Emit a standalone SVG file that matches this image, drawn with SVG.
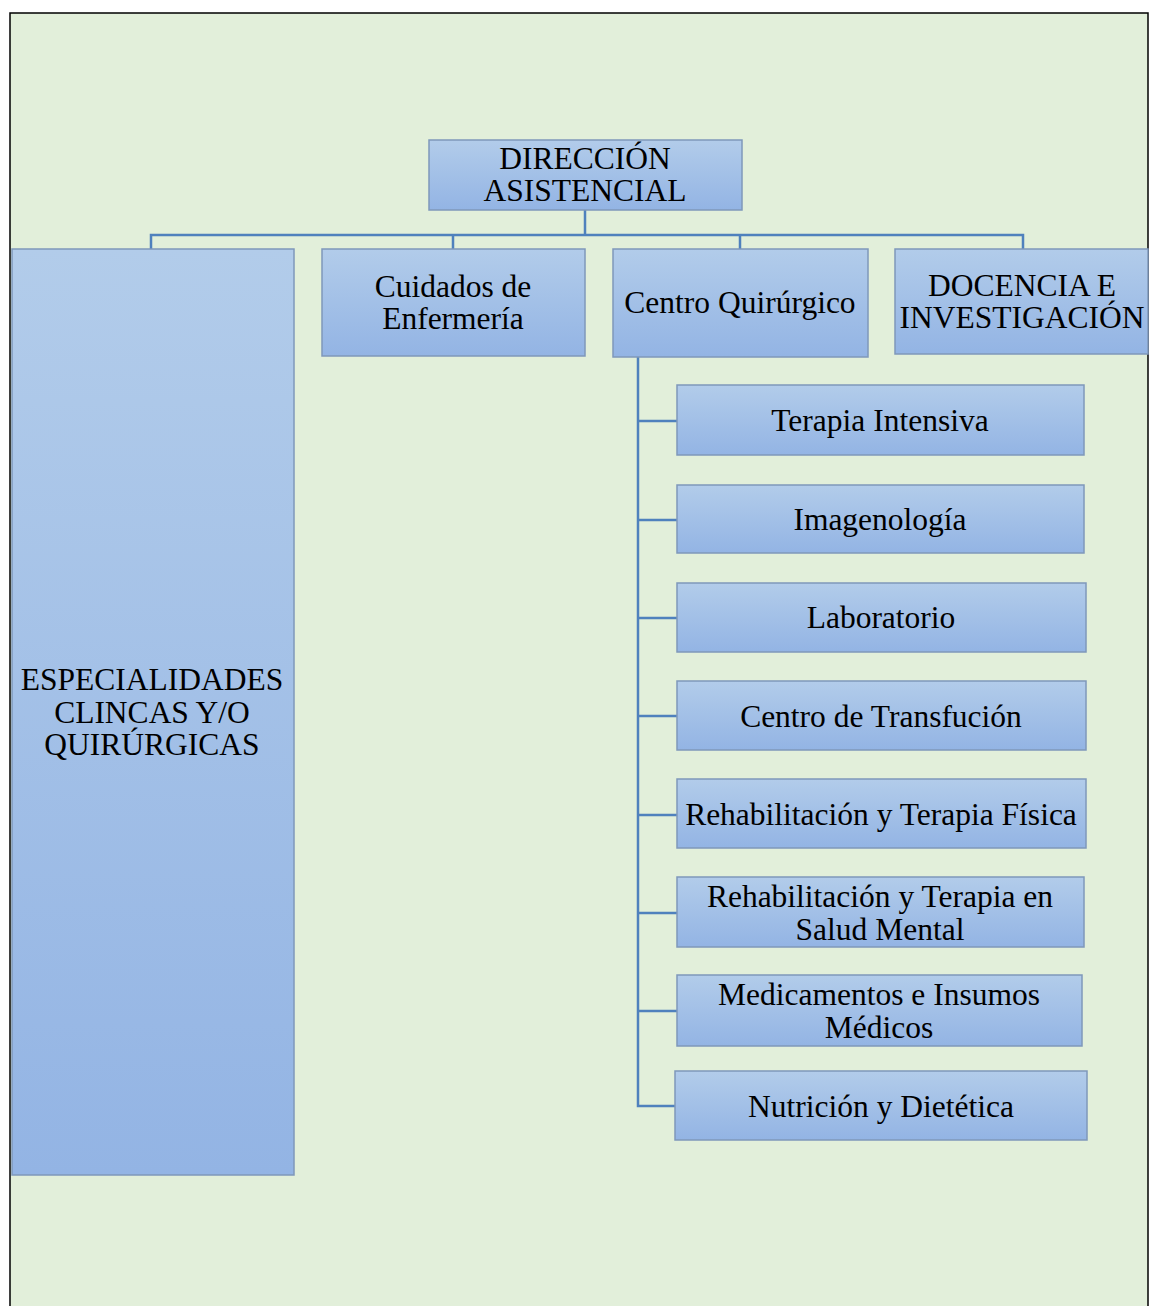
<svg xmlns="http://www.w3.org/2000/svg" width="1149" height="1306" viewBox="0 0 1149 1306">
<defs>
<linearGradient id="g" x1="0" y1="0" x2="0" y2="1">
<stop offset="0" stop-color="#B2CCEA"/>
<stop offset="1" stop-color="#93B4E4"/>
</linearGradient>
<style>
.box{fill:url(#g);stroke:#7F98BA;stroke-width:1.5}
.t{font-family:"Liberation Serif","Times New Roman",serif;font-size:31.5px;fill:#000;text-anchor:middle}
.c{fill:none;stroke:#4F81BD;stroke-width:2.5}
</style>
</defs>
<rect x="0" y="0" width="1149" height="1306" fill="#FFFFFF"/>
<rect x="10" y="13" width="1138" height="1300" fill="#E2EFDA" stroke="#000" stroke-width="1.5"/>
<g id="connectors">
<path class="c" d="M585 210 V235 M151 249 V235 H1023 V249 M453 235 V249 M740 235 V249"/>
<path class="c" d="M638 357 V1106 H677 M638 421 H677 M638 520 H677 M638 618 H677 M638 716 H677 M638 815 H677 M638 913 H677 M638 1011 H677"/>
</g>
<g id="n-direccion"><rect class="box" x="429" y="140" width="313" height="70"/><text class="t" x="585" y="169">DIRECCIÓN</text><text class="t" x="585" y="201">ASISTENCIAL</text></g>
<g id="n-especialidades"><rect class="box" x="12" y="249" width="282" height="926"/><text class="t" x="152" y="690">ESPECIALIDADES</text><text class="t" x="152" y="723">CLINCAS Y/O</text><text class="t" x="152" y="755">QUIRÚRGICAS</text></g>
<g id="n-cuidados"><rect class="box" x="322" y="249" width="263" height="107"/><text class="t" x="453" y="297">Cuidados de</text><text class="t" x="453" y="329">Enfermería</text></g>
<g id="n-centroq"><rect class="box" x="613" y="249" width="255" height="108"/><text class="t" x="740" y="313">Centro Quirúrgico</text></g>
<g id="n-docencia"><rect class="box" x="895" y="249" width="253" height="105"/><text class="t" x="1022" y="296">DOCENCIA E</text><text class="t" x="1022" y="328">INVESTIGACIÓN</text></g>
<g id="n-terapia"><rect class="box" x="677" y="385" width="407" height="70"/><text class="t" x="880" y="431">Terapia Intensiva</text></g>
<g id="n-imagen"><rect class="box" x="677" y="485" width="407" height="68"/><text class="t" x="880" y="530">Imagenología</text></g>
<g id="n-lab"><rect class="box" x="677" y="583" width="409" height="69"/><text class="t" x="881" y="628">Laboratorio</text></g>
<g id="n-transf"><rect class="box" x="677" y="681" width="409" height="69"/><text class="t" x="881" y="727">Centro de Transfución</text></g>
<g id="n-rehabf"><rect class="box" x="677" y="779" width="409" height="69"/><text class="t" x="881" y="825">Rehabilitación y Terapia Física</text></g>
<g id="n-rehabm"><rect class="box" x="677" y="877" width="407" height="70"/><text class="t" x="880" y="907">Rehabilitación y Terapia en</text><text class="t" x="880" y="940">Salud Mental</text></g>
<g id="n-medic"><rect class="box" x="677" y="975" width="405" height="71"/><text class="t" x="879" y="1005">Medicamentos e Insumos</text><text class="t" x="879" y="1038">Médicos</text></g>
<g id="n-nutri"><rect class="box" x="675" y="1071" width="412" height="69"/><text class="t" x="881" y="1117">Nutrición y Dietética</text></g>
</svg>
